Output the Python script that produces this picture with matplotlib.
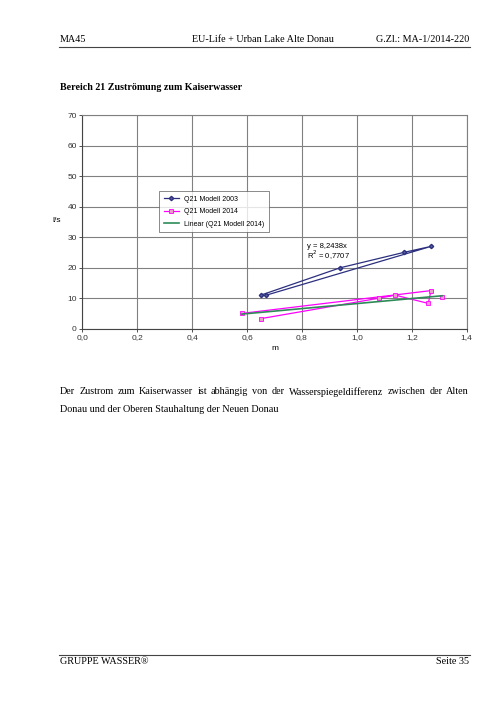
import numpy as np
import matplotlib
matplotlib.use("Agg")
import matplotlib.pyplot as plt

# data
x_2003 = [0.65, 0.94, 1.17, 1.27, 0.67]
y_2003 = [11.0, 20.0, 25.0, 27.0, 11.0]

x_2014 = [1.31, np.nan, 0.65, 1.08, 1.14, 1.26, 1.27, 0.58]
y_2014 = [10.5, np.nan, 3.3, 10.0, 11.0, 8.3, 12.5, 5.0]

trend_slope = 8.2438
trend_r2 = 0.7707

x_ticks = [0.0, 0.2, 0.4, 0.6, 0.8, 1.0, 1.2, 1.4]
y_ticks = [0, 10, 20, 30, 40, 50, 60, 70]

header_left = "MA45"
header_mid = "EU-Life + Urban Lake Alte Donau"
header_right = "G.Zl.: MA-1/2014-220"
title = "Bereich 21 Zuströmung zum Kaiserwasser"
body = ["Der Zustrom zum Kaiserwasser ist abhängig von der Wasserspiegeldifferenz zwischen der Alten",
        "Donau und der Oberen Stauhaltung der Neuen Donau"]
footer_left = "GRUPPE WASSER®"
footer_right = "Seite 35"

W, H = 504, 713
fig = plt.figure(figsize=(W / 100, H / 100), dpi=100)
serif = "Liberation Serif"
sans = "Liberation Sans"
fs_page = 7.3


def px(x, y):
    return x / W, 1 - y / H


# page header / footer
fig.text(*px(60, 40), header_left, family=serif, fontsize=fs_page, va="center")
fig.text(*px(263, 40), header_mid, family=serif, fontsize=fs_page, va="center", ha="center")
fig.text(*px(469, 40), header_right, family=serif, fontsize=fs_page, va="center", ha="right")
fig.add_artist(plt.Line2D([59 / W, 470 / W], [1 - 47 / H] * 2, color="#444444", lw=0.8))
fig.text(*px(60, 88), title, family=serif, fontsize=7.2, weight="bold", va="center")

fig.add_artist(plt.Line2D([59 / W, 470 / W], [1 - 655 / H] * 2, color="#444444", lw=0.8))
fig.text(*px(60, 662), footer_left, family=serif, fontsize=fs_page, va="center")
fig.text(*px(469, 662), footer_right, family=serif, fontsize=fs_page, va="center", ha="right")

# chart
ax = fig.add_axes([82.3 / W, 1 - 328.7 / H, (466.7 - 82.3) / W, (328.7 - 115.3) / H])
ax.plot(x_2003, y_2003, color="#2B2F7E", lw=0.9, marker="D", ms=2.2,
        mfc="#5A5F9E", mec="#2B2F7E", label="Q21 Modell 2003")
ax.plot(x_2014, y_2014, color="#FF00FF", lw=0.9, marker="s", ms=3,
        mfc="#E8A0C8", mec="#FF00FF", mew=0.6, label="Q21 Modell 2014")
xs = [np.nanmin(x_2014), np.nanmax(x_2014)]
ax.plot(xs, [trend_slope * v for v in xs], color="#2E8B57", lw=1.2,
        label="Linear (Q21 Modell 2014)")

ax.set_xlim(0, 1.4)
ax.set_ylim(0, 70)
ax.set_xticks(x_ticks)
ax.set_yticks(y_ticks)
ax.set_xticklabels([f"{v:.1f}".replace(".", ",") for v in x_ticks])
ax.grid(True, color="#808080", lw=0.8)
ax.set_axisbelow(True)
for s in ax.spines.values():
    s.set_color("#808080")
    s.set_linewidth(0.8)
ax.spines["left"].set_color("#444444")
ax.spines["bottom"].set_color("#444444")
ax.tick_params(length=2, width=0.6, labelsize=6, pad=2, colors="#333333")
for lab in ax.get_xticklabels() + ax.get_yticklabels():
    lab.set_family(sans)
ax.set_xlabel("m", family=sans, fontsize=6, labelpad=3)
fig.text(*px(57, 221), "l/s", family=sans, fontsize=6, va="center", ha="center")

leg = ax.legend(loc="upper left", bbox_to_anchor=((156 - 82.3) / 384.4, (328.7 - 188) / 213.4),
                prop={"family": sans, "size": 5}, frameon=True, fancybox=False,
                edgecolor="#555555", borderpad=0.6, labelspacing=0.8, handlelength=2.2)
leg.get_frame().set_linewidth(0.6)

ax.text(0.82, 26.9, f"y = {trend_slope:.4f}x".replace(".", ","),
        family=sans, fontsize=5.5, va="center")
ax.text(0.82, 23.9, f"R$^2$ = {trend_r2:.4f}".replace(".", ","),
        family=sans, fontsize=5.5, va="center")

# justified body text
renderer = fig.canvas.get_renderer()
fs_body = 7.3
for i, line in enumerate(body):
    y = 392 + i * 17
    if i == len(body) - 1:
        fig.text(*px(60, y), line, family=serif, fontsize=fs_body, va="center")
        continue
    words = line.split()
    arts = [fig.text(0, 1 - y / H, w, family=serif, fontsize=fs_body, va="center") for w in words]
    widths = [a.get_window_extent(renderer).width for a in arts]
    gap = (469 - 60 - sum(widths)) / (len(words) - 1)
    xpos = 60
    for a, w in zip(arts, widths):
        a.set_x(xpos / W)
        xpos += w + gap

fig.savefig("out.png", dpi=100)
